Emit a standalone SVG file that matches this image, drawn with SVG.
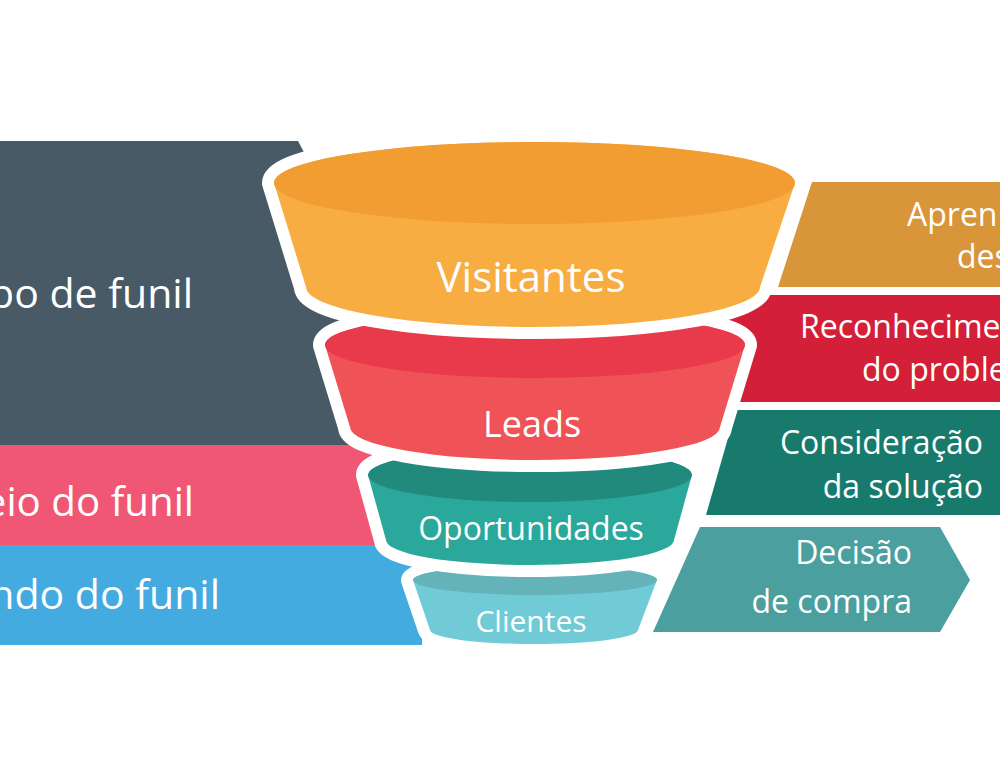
<svg xmlns="http://www.w3.org/2000/svg" width="1000" height="766" viewBox="0 0 1000 766">
  <style>
    .t { font-family: "Open Sans", "Noto Sans", "Liberation Sans", sans-serif; fill: #ffffff; }
    .left { font-size: 41px; text-anchor: end; }
    .right { font-size: 32px; }
    .fun { text-anchor: middle; }
    .outline { fill: #ffffff; stroke: #ffffff; stroke-width: 24; stroke-linejoin: round; }
  </style>
  <rect width="1000" height="766" fill="#ffffff"/>

  <!-- left stage bands -->
  <g id="band-topo">
    <polygon points="0,141 298,141 460,445 0,445" fill="#485a65"/>
    <text class="t left" x="193" y="308">po de funil</text>
  </g>
  <g id="band-meio">
    <rect x="0" y="445" width="450" height="100" fill="#ef5775"/>
    <text class="t left" x="194" y="516" style="font-size:40.3px">eio do funil</text>
  </g>
  <g id="band-fundo">
    <rect x="0" y="545" width="422" height="100" fill="#43abe0"/>
    <text class="t left" x="220" y="609">ndo do funil</text>
  </g>

  <!-- right stage labels -->
  <g id="label-aprendizado">
    <polygon points="812,182 1000,182 1000,287 778,287" fill="#d9953a"/>
    <text class="t right" x="907" y="226">Apren</text>
    <text class="t right" x="957" y="268">des</text>
  </g>
  <g id="label-reconhecimento">
    <polygon points="690,295 1000,295 1000,402 740,402 690,330" fill="#d31f37"/>
    <text class="t right" x="800" y="338">Reconhecime</text>
    <text class="t right" x="862" y="381">do proble</text>
  </g>
  <g id="label-consideracao">
    <polygon points="736,410 1000,410 1000,515 706,515" fill="#177a6d"/>
    <text class="t right" x="983" y="454" text-anchor="end">Consideração</text>
    <text class="t right" x="983" y="498" text-anchor="end">da solução</text>
  </g>
  <g id="label-decisao">
    <polygon points="700,527 940,527 970,580 940,632 653,632" fill="#4b9f9e"/>
    <text class="t right" x="912" y="564" text-anchor="end">Decisão</text>
    <text class="t right" x="912" y="613" text-anchor="end">de compra</text>
  </g>

  <!-- funnel (drawn bottom to top) -->
  <g id="connectors"></g>

  <g id="funnel-clientes">
    <path class="outline" d="M413,580 L430,630 A104,14 0 0 0 638,630 L657,580 A122,15 0 0 0 413,580 Z"/>
    <path d="M413,580 L430,630 A104,14 0 0 0 638,630 L657,580 A122,15 0 0 0 413,580 Z" fill="#70cbd6"/>
    <ellipse cx="535" cy="580" rx="122" ry="15" fill="#63b3b8"/>
    <text class="t fun" x="531" y="632" font-size="30">Clientes</text>
  </g>

  <g id="funnel-oportunidades">
    <path class="outline" d="M368,475 L386,540 A144,25 0 0 0 674,540 L692,475 A162,27 0 0 0 368,475 Z"/>
    <path d="M368,475 L386,540 A144,25 0 0 0 674,540 L692,475 A162,27 0 0 0 368,475 Z" fill="#2aa89c"/>
    <ellipse cx="530" cy="475" rx="162" ry="27" fill="#218a7c"/>
    <text class="t fun" x="531" y="540" font-size="32">Oportunidades</text>
  </g>

  <g id="funnel-leads">
    <path class="outline" d="M325,345 L350,427 A185,33 0 0 0 720,427 L745,345 A210,33 0 0 0 325,345 Z"/>
    <path d="M325,345 L350,427 A185,33 0 0 0 720,427 L745,345 A210,33 0 0 0 325,345 Z" fill="#ef5257"/>
    <ellipse cx="535" cy="345" rx="210" ry="33" fill="#e83a4a"/>
    <text class="t fun" x="532" y="437" font-size="36">Leads</text>
  </g>

  <g id="funnel-visitantes">
    <path class="outline" d="M274,183 L306,287 A227,40 0 0 0 760,287 L795,183 A260.5,41 0 0 0 274,183 Z"/>
    <path d="M274,183 L306,287 A227,40 0 0 0 760,287 L795,183 A260.5,41 0 0 0 274,183 Z" fill="#f8ad42"/>
    <ellipse cx="534.5" cy="183" rx="260.5" ry="41" fill="#f29d31"/>
    <text class="t fun" x="531" y="292" font-size="42">Visitantes</text>
  </g>
</svg>
